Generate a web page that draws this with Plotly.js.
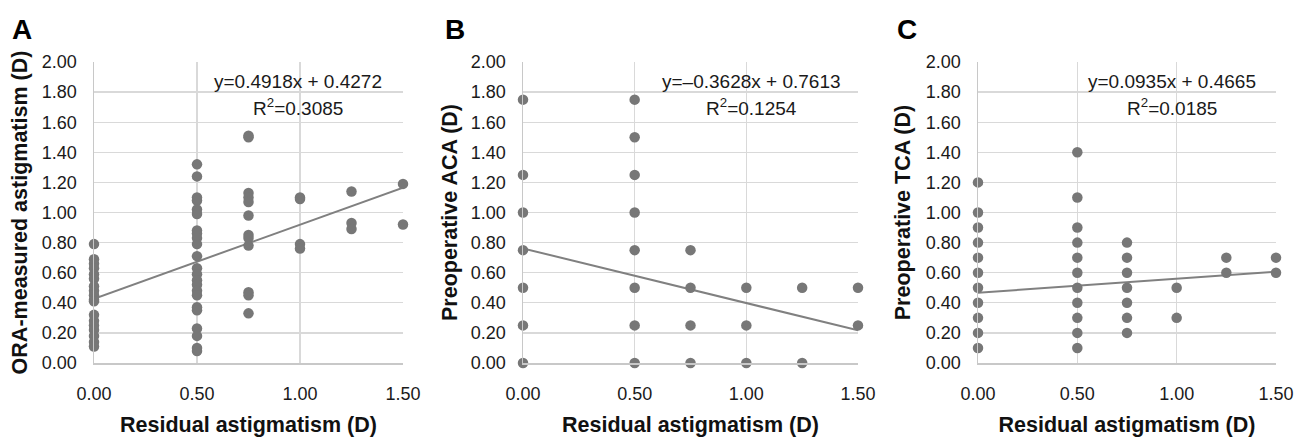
<!DOCTYPE html>
<html>
<head>
<meta charset="utf-8">
<script src="https://cdn.plot.ly/plotly-3.0.1.min.js"></script>
<style>html,body{margin:0;padding:0;background:#fff;}#chart{width:1300px;height:437px;}</style>
</head>
<body>
<div id="chart"></div>
<script>
// Panel A: ORA-measured astigmatism vs residual astigmatism
const aX = [0,0,0,0,0,0,0,0,0,0,0,0,0,0,0,0,0,0,
            0.5,0.5,0.5,0.5,0.5,0.5,0.5,0.5,0.5,0.5,0.5,0.5,0.5,0.5,0.5,0.5,0.5,0.5,0.5,0.5,0.5,0.5,0.5,
            0.75,0.75,0.75,0.75,0.75,0.75,0.75,0.75,0.75,0.75,0.75,0.75,
            1,1,1,1,
            1.25,1.25,1.25,
            1.5,1.5];
const aY = [0.79,0.69,0.66,0.63,0.59,0.56,0.51,0.48,0.45,0.42,0.41,0.32,0.28,0.25,0.22,0.18,0.14,0.11,
            1.32,1.24,1.10,1.08,1.02,0.99,0.88,0.86,0.83,0.79,0.71,0.63,0.59,0.55,0.52,0.48,0.45,0.37,0.35,0.23,0.18,0.10,0.08,
            1.51,1.50,1.13,1.10,1.07,0.98,0.85,0.83,0.78,0.47,0.45,0.33,
            1.10,1.09,0.79,0.76,
            1.14,0.93,0.89,
            1.19,0.92];
// Panel B: preoperative ACA vs residual astigmatism
const bX = [0,0,0,0,0,0,0,
            0.5,0.5,0.5,0.5,0.5,0.5,0.5,0.5,
            0.75,0.75,0.75,0.75,
            1,1,1,
            1.25,1.25,
            1.5,1.5];
const bY = [1.75,1.25,1.00,0.75,0.50,0.25,0.00,
            1.75,1.50,1.25,1.00,0.75,0.50,0.25,0.00,
            0.75,0.50,0.25,0.00,
            0.50,0.25,0.00,
            0.50,0.00,
            0.50,0.25];
// Panel C: preoperative TCA vs residual astigmatism
const cX = [0,0,0,0,0,0,0,0,0,0,0,
            0.5,0.5,0.5,0.5,0.5,0.5,0.5,0.5,0.5,0.5,0.5,
            0.75,0.75,0.75,0.75,0.75,0.75,0.75,
            1,1,
            1.25,1.25,
            1.5,1.5];
const cY = [1.20,1.00,0.90,0.80,0.70,0.60,0.50,0.40,0.30,0.20,0.10,
            1.40,1.10,0.90,0.80,0.70,0.60,0.50,0.40,0.30,0.20,0.10,
            0.80,0.70,0.60,0.50,0.40,0.30,0.20,
            0.50,0.30,
            0.70,0.60,
            0.70,0.60];
// Linear fits (slope, intercept) and labels
const slopes = [0.4918, -0.3628, 0.0935];
const intercepts = [0.4272, 0.7613, 0.4665];
const eqLabels = ["y=0.4918x + 0.4272", "y=\u20130.3628x + 0.7613", "y=0.0935x + 0.4665"];
const r2Labels = ["R<sup>2</sup>=0.3085", "R<sup>2</sup>=0.1254", "R<sup>2</sup>=0.0185"];
const panelLetters = ["A", "B", "C"];
const yTitles = ["ORA-measured astigmatism (D)", "Preoperative ACA (D)", "Preoperative TCA (D)"];
const xTitle = "Residual astigmatism (D)";
const xRange = [0, 1.5];
const yRange = [0, 2];

const FONT = "Liberation Sans, Arial, sans-serif";
const DOT = "#777777";
const LINE = "#808080";
const xs = [aX, bX, cX], ys = [aY, bY, cY];
const domainsX = [[94/1300, 403/1300], [523/1300, 858/1300], [978/1300, 1276/1300]];
const domY = [(437-363)/437, (437-62)/437];
const yStand = [8, 7, 9];

const traces = [];
const layout = {
  width: 1300, height: 437,
  margin: {l: 0, r: 0, t: 0, b: 0},
  paper_bgcolor: "#ffffff", plot_bgcolor: "#ffffff",
  showlegend: false,
  font: {family: FONT, color: "#1a1a1a", size: 18},
  annotations: []
};
for (let i = 0; i < 3; i++) {
  const sfx = i === 0 ? "" : String(i + 1);
  const xa = "x" + sfx, ya = "y" + sfx;
  traces.push({
    type: "scatter", mode: "lines", xaxis: xa, yaxis: ya,
    x: xRange.slice(), y: xRange.map(v => slopes[i] * v + intercepts[i]),
    line: {color: LINE, width: 2}, hoverinfo: "skip", cliponaxis: false
  });
  traces.push({
    type: "scatter", mode: "markers", xaxis: xa, yaxis: ya,
    x: xs[i], y: ys[i], cliponaxis: false,
    marker: {color: DOT, size: 10.5, line: {width: 0}}
  });
  layout["xaxis" + sfx] = {
    domain: domainsX[i], anchor: ya, range: xRange, dtick: 0.5, tick0: 0,
    tickformat: ".2f", showgrid: true, gridcolor: "#d9d9d9", gridwidth: 1.3,
    zeroline: false, showline: true, linecolor: "#c8c8c8", linewidth: 1.5,
    ticks: "", ticklabelstandoff: 14, tickfont: {size: 18, color: "#1a1a1a"},
    title: {text: xTitle, font: {size: 21.5, family: FONT, color: "#111", weight: "bold"}, standoff: 22},
    fixedrange: true
  };
  layout["yaxis" + sfx] = {
    domain: domY, anchor: xa, range: yRange, dtick: 0.2, tick0: 0,
    tickformat: ".2f", showgrid: true, gridcolor: "#d9d9d9", gridwidth: 1.3,
    zeroline: false, showline: true, linecolor: "#c8c8c8", linewidth: 1.5,
    ticks: "", ticklabelstandoff: 12, tickfont: {size: 18, color: "#1a1a1a"},
    title: {text: yTitles[i], font: {size: 21.5, family: FONT, color: "#111", weight: "bold"}, standoff: yStand[i]},
    fixedrange: true
  };
  const eqCenterPx = [298, 751, 1172][i];
  layout.annotations.push({
    xref: "paper", yref: "paper", x: eqCenterPx / 1300, y: (437 - 82) / 437,
    text: eqLabels[i], showarrow: false, xanchor: "center", yanchor: "middle",
    font: {size: 19, family: FONT, color: "#1a1a1a"}
  });
  layout.annotations.push({
    xref: "paper", yref: "paper", x: eqCenterPx / 1300, y: (437 - 107) / 437,
    text: r2Labels[i], showarrow: false, xanchor: "center", yanchor: "middle",
    font: {size: 19, family: FONT, color: "#1a1a1a"}
  });
  const letterPx = [22, 455, 907][i];
  layout.annotations.push({
    xref: "paper", yref: "paper", x: letterPx / 1300, y: (437 - 29) / 437,
    text: "<b>" + panelLetters[i] + "</b>", showarrow: false, xanchor: "center", yanchor: "middle",
    font: {size: 28, family: FONT, color: "#000"}
  });
}
Plotly.newPlot("chart", traces, layout, {displayModeBar: false, staticPlot: true});
</script>
</body>
</html>
